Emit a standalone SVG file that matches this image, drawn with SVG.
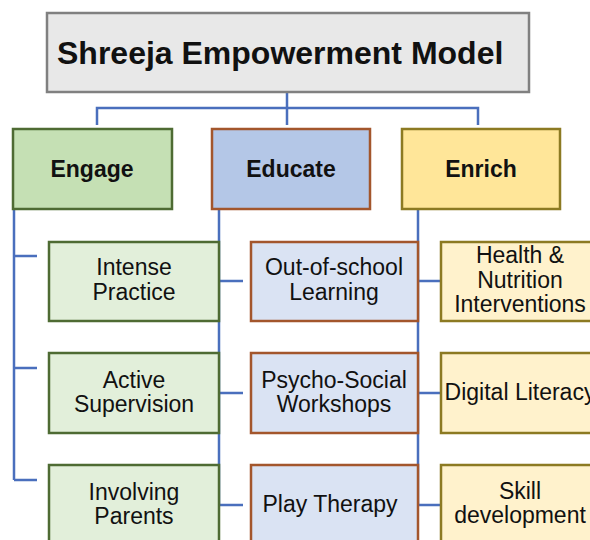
<svg xmlns="http://www.w3.org/2000/svg" width="590" height="540" viewBox="0 0 590 540">
<style>
text{font-family:"Liberation Sans",Arial,sans-serif;fill:#111;text-anchor:middle}
.title{font-size:32px;font-weight:bold;text-anchor:start}
.head{font-size:23px;font-weight:bold}
.sub{font-size:23px}
.conn{stroke:#4a6fbd;stroke-width:2.5;fill:none}
.g1{fill:#c5e0b4;stroke:#4e6b33;stroke-width:2.5}
.b1{fill:#b4c7e7;stroke:#a3562c;stroke-width:2.5}
.y1{fill:#ffe699;stroke:#8c7a22;stroke-width:2.5}
.g2{fill:#e2efda;stroke:#4e6b33;stroke-width:2.5}
.b2{fill:#dae3f3;stroke:#a3562c;stroke-width:2.5}
.y2{fill:#fff2cc;stroke:#8c7a22;stroke-width:2.5}
</style>
<g id="connectors" class="conn">
<path d="M287 92V108M97 125V108H478V125M287 108V125"/>
<path d="M14 209V480M14 256H37M14 368H37M14 480H37"/>
<path d="M219 209V505M219 281H243M219 393H243M219 505H243"/>
<path d="M418 209V505M418 281H441M418 393H441M418 505H441"/>
</g>
<g id="title"><rect x="47" y="13" width="482" height="79" fill="#e8e8e8" stroke="#808080" stroke-width="2.5"/><text class="title" x="57" y="64">Shreeja Empowerment Model</text></g>
<g id="engage"><rect class="g1" x="13" y="129" width="159" height="80"/><text class="head" x="92" y="177">Engage</text></g>
<g id="educate"><rect class="b1" x="212" y="129" width="158" height="80"/><text class="head" x="291" y="177">Educate</text></g>
<g id="enrich"><rect class="y1" x="402" y="129" width="158" height="80"/><text class="head" x="481" y="177">Enrich</text></g>
<g id="intense-practice"><rect class="g2" x="49" y="242" width="170" height="79"/><text class="sub" x="134" y="275">Intense</text><text class="sub" x="134" y="300">Practice</text></g>
<g id="active-supervision"><rect class="g2" x="49" y="353" width="170" height="80"/><text class="sub" x="134" y="388">Active</text><text class="sub" x="134" y="412">Supervision</text></g>
<g id="involving-parents"><rect class="g2" x="49" y="465" width="170" height="82"/><text class="sub" x="134" y="500">Involving</text><text class="sub" x="134" y="524">Parents</text></g>
<g id="out-of-school"><rect class="b2" x="251" y="242" width="167" height="79"/><text class="sub" x="334" y="275">Out-of-school</text><text class="sub" x="334" y="300">Learning</text></g>
<g id="psycho-social"><rect class="b2" x="251" y="353" width="167" height="80"/><text class="sub" x="334" y="388">Psycho-Social</text><text class="sub" x="334" y="412">Workshops</text></g>
<g id="play-therapy"><rect class="b2" x="251" y="465" width="167" height="82"/><text class="sub" x="330" y="512">Play Therapy</text></g>
<g id="health-nutrition"><rect class="y2" x="441" y="242" width="162" height="79"/><text class="sub" x="520" y="263">Health &amp;</text><text class="sub" x="520" y="288">Nutrition</text><text class="sub" x="520" y="312">Interventions</text></g>
<g id="digital-literacy"><rect class="y2" x="441" y="353" width="162" height="80"/><text class="sub" x="520" y="400">Digital Literacy</text></g>
<g id="skill-development"><rect class="y2" x="441" y="465" width="162" height="82"/><text class="sub" x="520" y="499">Skill</text><text class="sub" x="520" y="523">development</text></g>
</svg>
